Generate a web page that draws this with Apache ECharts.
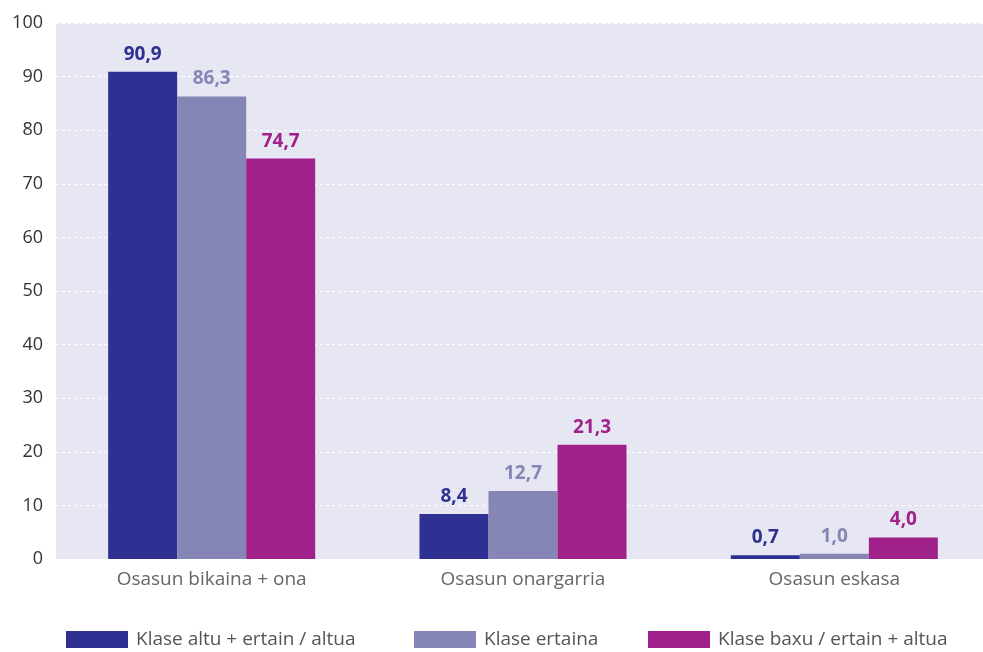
<!DOCTYPE html>
<html lang="eu">

<head>
  <meta charset="UTF-8">
  <title>Osasuna klase sozialaren arabera</title>
  <style>
    * {
      margin: 0;
      padding: 0;
    }
  </style>
  <script src="https://cdn.jsdelivr.net/npm/echarts@6/dist/echarts.min.js"></script>
</head>

<body>
  <div id="main" style="width: 983px; height: 652px;"></div>
  <script>
    const chart = echarts.init(document.getElementById('main'))

    // datuak
    const categories = ['Osasun bikaina + ona', 'Osasun onargarria', 'Osasun eskasa']
    const seriesNames = ['Klase altu + ertain / altua', 'Klase ertaina', 'Klase baxu / ertain + altua']
    const altua = [90.9, 8.4, 0.7]
    const ertaina = [86.3, 12.7, 1.0]
    const baxua = [74.7, 21.3, 4.0]

    const colors = ['#2e3192', '#8686b6', '#a0218a']
    const font = 'Open Sans'

    function barSeries(name, data, color) {
      return {
        name,
        type: 'bar',
        data,
        barGap: 0,
        barCategoryGap: '33.5%',
        itemStyle: { color },
        label: {
          show: true,
          position: 'top',
          distance: 8,
          color,
          fontFamily: font,
          fontWeight: 'bold',
          fontSize: 19,
          formatter: p => p.value.toFixed(1).replace('.', ',')
        }
      }
    }

    // legend bakoitza bere lekuan
    const legendLefts = [66, 414, 648]
    const legend = seriesNames.map((n, i) => ({
      data: [n],
      left: legendLefts[i],
      top: 630,
      padding: 0,
      itemWidth: 62,
      itemHeight: 17,
      itemGap: 0,
      icon: 'rect',
      selectedMode: false,
      textStyle: { color: '#555', fontSize: 19, fontFamily: font, padding: [0, 0, 0, 3] }
    }))

    const option = {
      color: colors,
      animation: false,
      // grafikoa apur bat eskuinetik kanpora doa
      grid: {
        left: 56, width: 934, top: 23, bottom: 93,
        outerBoundsMode: 'none', containLabel: false,
        show: true, backgroundColor: '#e6e7f2', borderWidth: 0
      },
      legend,
      xAxis: {
        type: 'category',
        data: categories,
        axisLine: { show: false },
        axisTick: { show: false },
        axisLabel: { color: '#666', fontSize: 19, fontFamily: font, margin: 11 }
      },
      yAxis: {
        type: 'value',
        min: 0,
        max: 100,
        interval: 10,
        axisLine: { show: false },
        axisTick: { show: false },
        axisLabel: { color: '#333', fontSize: 18, fontFamily: font, margin: 13 },
        splitLine: { lineStyle: { color: '#ffffff', type: [3, 3], width: 1 } }
      },
      series: [
        barSeries(seriesNames[0], altua, colors[0]),
        barSeries(seriesNames[1], ertaina, colors[1]),
        barSeries(seriesNames[2], baxua, colors[2])
      ]
    }

    chart.setOption(option)
  </script>
</body>

</html>
